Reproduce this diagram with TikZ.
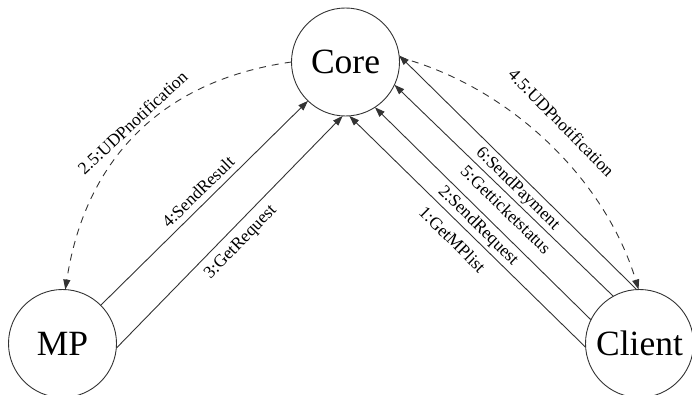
\documentclass[tikz,border=0pt]{standalone}
\usepackage{fontspec}
\setmainfont{Liberation Serif}
\usetikzlibrary{arrows.meta}
\begin{document}
\begin{tikzpicture}[x=1pt,y=-1pt,
  state/.style={circle, draw=black!80, line width=0.9pt, minimum size=108pt, inner sep=0pt, outer sep=0pt, font=\fontsize{35.5}{40}\selectfont},
  lbl/.style={inner sep=0pt, font=\fontsize{17.5}{20}\selectfont},
  msg/.style={draw=black!80, line width=0.9pt, -{Triangle[length=10pt,width=7pt]}},
  notif/.style={msg, dash pattern=on 7pt off 6pt}]
\useasboundingbox (0,0) rectangle (692,395);
\node[state] (core) at (345.5,62) {Core};
\node[state] (mp) at (62.5,343.5) {MP};
\node[state] (client) at (639.5,343.5) {Client};
% MP -> Core
\draw[msg] (mp.45.7) -- (core.226.8);
\draw[msg] (mp.-5.8) -- (core.267.3);
% Client -> Core
\draw[msg] (client.184.7) -- (core.274.9);
\draw[msg] (client.154.1) -- (core.303.3);
\draw[msg] (client.119.7) -- (core.335);
\draw[msg] (client.93.7) -- (core.7.6);
% notifications
\draw[notif] (core.180) .. controls +(-134.5,19) and +(19.1,-125.6) .. (mp.87.4);
\draw[notif] (core.5.2) .. controls +(111,29.8) and +(-33.4,-110.4) .. (client.91.6);
% labels
\node[lbl, rotate=43] (l25) at (132.5,122.5) {2.5:UDPnotification};
\node[lbl, rotate=44.3] (l4) at (198,191.7) {4:SendResult};
\node[lbl, rotate=46] (l3) at (241,242.5) {3:GetRequest};
\node[lbl, rotate=-45.5] (l45) at (561.5,122.5) {4.5:UDPnotification};
\node[lbl, rotate=-44.5] (l6) at (517.5,189) {6:SendPayment};
\node[lbl, rotate=-44.2] (l5) at (506,209.5) {5:Getticketstatus};
\node[lbl, rotate=-44.6] (l2) at (478,226) {2:SendRequest};
\node[lbl, rotate=-44.8] (l1) at (452.5,239.5) {1:GetMPlist};
\end{tikzpicture}
\end{document}
